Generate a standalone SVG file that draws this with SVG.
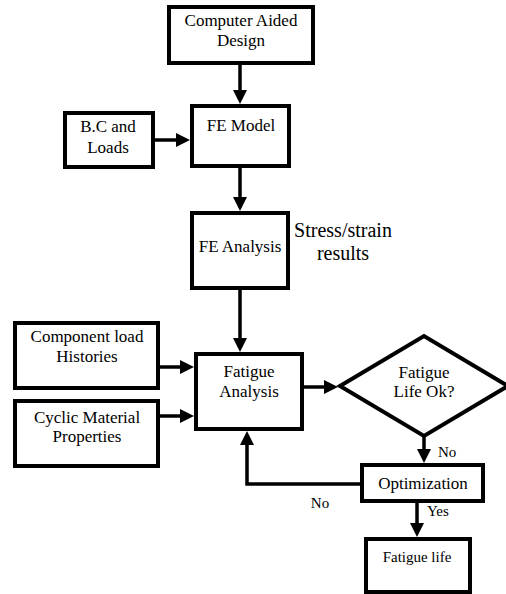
<svg xmlns="http://www.w3.org/2000/svg" width="506" height="594" viewBox="0 0 506 594" font-family="Liberation Serif, serif">
<style>
.box{fill:#fff;stroke:#000;stroke-width:4}
text{font-size:17px;fill:#000;text-anchor:middle}
.s{font-size:15px}
.b{font-size:20px}
.l{text-anchor:start}
.c{fill:none;stroke:#000;stroke-width:3.5}
</style>
<defs>
<marker id="ah" markerUnits="userSpaceOnUse" markerWidth="16" markerHeight="14" viewBox="0 0 16 14" refX="6" refY="7" orient="auto">
<path d="M0,0 L14,7 L0,14 z" fill="#000"/>
</marker>
</defs>
<rect width="506" height="594" fill="#fff"/>
<g id="connectors">
<line class="c" x1="240" y1="64" x2="240" y2="96" marker-end="url(#ah)"/>
<line class="c" x1="154" y1="140" x2="182" y2="140" marker-end="url(#ah)"/>
<line class="c" x1="240" y1="167" x2="240" y2="203" marker-end="url(#ah)"/>
<line class="c" x1="240" y1="289" x2="240" y2="344" marker-end="url(#ah)"/>
<line class="c" x1="159" y1="367" x2="186" y2="367" marker-end="url(#ah)"/>
<line class="c" x1="159" y1="416" x2="186" y2="416" marker-end="url(#ah)"/>
<line class="c" x1="303" y1="387" x2="330" y2="387" marker-end="url(#ah)"/>
<line class="c" x1="424" y1="436" x2="424" y2="455" marker-end="url(#ah)"/>
<polyline class="c" points="362,484 247,484 247,439" marker-end="url(#ah)"/>
<line class="c" x1="417" y1="502" x2="417" y2="529" marker-end="url(#ah)"/>
<text class="s l" x="438" y="457">No</text>
<text class="s" x="320" y="508">No</text>
<text class="s l" x="427" y="516">Yes</text>
</g>
<g id="cad">
<rect class="box" x="169" y="7" width="144" height="56"/>
<text x="241" y="26">Computer Aided</text>
<text x="241" y="46">Design</text>
</g>
<g id="fe-model">
<rect class="box" x="192" y="106" width="97" height="60"/>
<text x="241" y="131">FE Model</text>
</g>
<g id="bc-loads">
<rect class="box" x="65" y="113" width="88" height="54"/>
<text x="108" y="132">B.C and</text>
<text x="108" y="153">Loads</text>
</g>
<g id="fe-analysis">
<rect class="box" x="192" y="213" width="96" height="75"/>
<text x="240" y="252">FE Analysis</text>
</g>
<g id="stress-strain">
<text class="b" x="343" y="237">Stress/strain</text>
<text class="b" x="343" y="260">results</text>
</g>
<g id="fatigue-analysis">
<rect class="box" x="196" y="354" width="106" height="75"/>
<text x="249" y="377">Fatigue</text>
<text x="249" y="397">Analysis</text>
</g>
<g id="load-histories">
<rect class="box" x="15" y="323" width="143" height="65"/>
<text x="87" y="342">Component load</text>
<text x="87" y="362">Histories</text>
</g>
<g id="material">
<rect class="box" x="15" y="401" width="143" height="65"/>
<text x="87" y="423">Cyclic Material</text>
<text x="87" y="442">Properties</text>
</g>
<g id="decision">
<polygon class="box" points="340,386 424,336 508,386 424,436"/>
<text x="424" y="378">Fatigue</text>
<text x="424" y="397">Life Ok?</text>
</g>
<g id="optimization">
<rect class="box" x="362" y="465" width="121" height="36"/>
<text x="423" y="489">Optimization</text>
</g>
<g id="fatigue-life">
<rect class="box" x="366" y="539" width="104" height="53"/>
<text class="s" x="417" y="562">Fatigue life</text>
</g>
</svg>
